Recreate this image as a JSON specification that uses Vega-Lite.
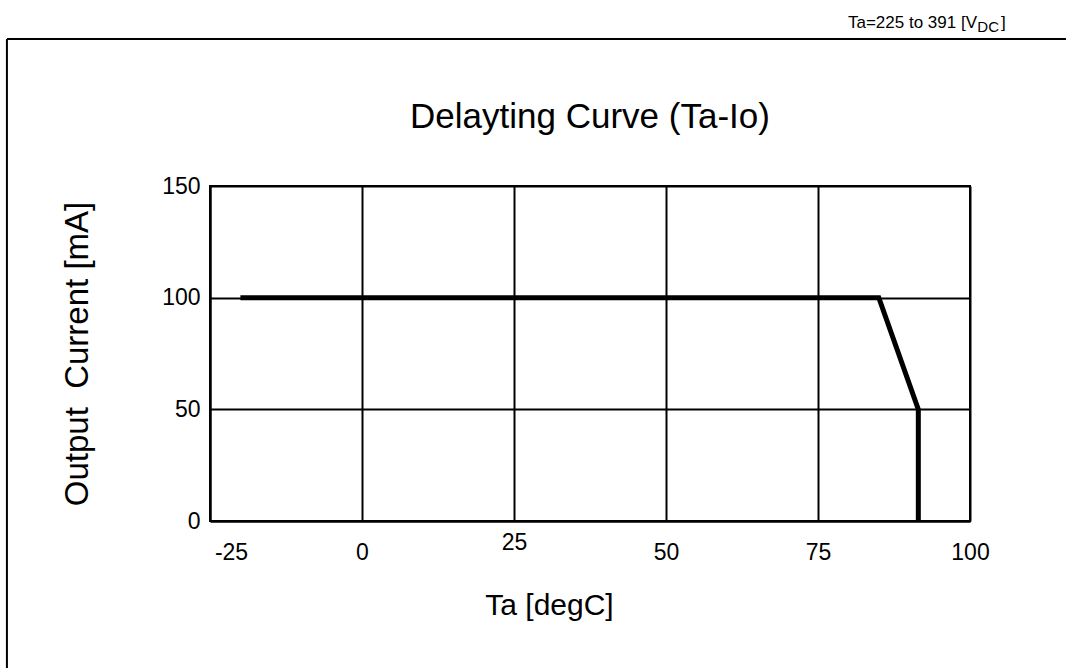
{
  "$schema": "https://vega.github.io/schema/vega-lite/v6.json",
  "width": 760,
  "height": 335,
  "autosize": "none",
  "padding": {"left": 210, "top": 186, "right": 96, "bottom": 147},
  "background": "white",
  "config": {
    "font": "Liberation Sans",
    "view": {"stroke": "black", "strokeWidth": 2}
  },
  "data": {
    "values": [
      {"ta": -20, "io": 100, "seq": 1},
      {"ta": 85, "io": 100, "seq": 2},
      {"ta": 91.5, "io": 50, "seq": 3},
      {"ta": 91.5, "io": 0, "seq": 4}
    ]
  },
  "layer": [
    {
      "mark": {"type": "line", "color": "black", "strokeWidth": 5, "strokeJoin": "miter", "strokeCap": "butt"},
      "encoding": {
        "x": {
          "field": "ta",
          "type": "quantitative",
          "scale": {"domain": [-25, 100], "nice": false, "zero": false},
          "axis": {
            "values": [-25, 0, 25, 50, 75, 100],
            "labelExpr": "toString(datum.value)",
            "title": "Ta [degC]",
            "grid": true,
            "gridColor": "black",
            "gridWidth": 2,
            "gridOpacity": 1,
            "domainColor": "black",
            "domainWidth": 2,
            "ticks": false,
            "labelFontSize": 23,
            "labelColor": "black",
            "labelPadding": {"condition": {"test": "datum.value == 25", "value": 10}, "value": 20},
            "labelOffset": {"condition": {"test": "datum.value == -25", "value": 21}, "value": 0},
            "labelOverlap": false,
            "labelFlush": false,
            "labelAlign": "center",
            "titleFontSize": 30,
            "titleFontWeight": "normal",
            "titleColor": "black",
            "titleX": 339,
            "titleY": 93,
            "titleBaseline": "alphabetic",
            "titleAlign": "center"
          }
        },
        "y": {
          "field": "io",
          "type": "quantitative",
          "scale": {"domain": [0, 150], "nice": false},
          "axis": {
            "values": [0, 50, 100, 150],
            "title": "Output\u00a0 Current [mA]",
            "grid": true,
            "gridColor": "black",
            "gridWidth": 2,
            "gridOpacity": 1,
            "domainColor": "black",
            "domainWidth": 2,
            "ticks": false,
            "labelFontSize": 23,
            "labelColor": "black",
            "labelPadding": 10,
            "labelOverlap": false,
            "titleFontSize": 33,
            "titleFontWeight": "normal",
            "titleColor": "black",
            "titleX": -133,
            "titleY": 167.5,
            "titleAngle": 270,
            "titleBaseline": "middle",
            "titleAlign": "center"
          }
        },
        "order": {"field": "seq", "type": "quantitative"}
      }
    },
    {
      "data": {"values": [{}]},
      "mark": {"type": "rule", "color": "black", "strokeWidth": 2},
      "encoding": {
        "x": {"datum": -58.4, "type": "quantitative"},
        "y": {"datum": -80, "type": "quantitative"},
        "y2": {"datum": 215.8}
      }
    },
    {
      "data": {"values": [{}]},
      "mark": {"type": "rule", "color": "black", "strokeWidth": 2},
      "encoding": {
        "x": {"datum": -58.4, "type": "quantitative"},
        "x2": {"datum": 150},
        "y": {"datum": 215.8, "type": "quantitative"}
      }
    },
    {
      "data": {"values": [{}]},
      "mark": {"type": "text", "align": "center", "baseline": "alphabetic", "fontSize": 35, "color": "black", "font": "Liberation Sans"},
      "encoding": {
        "x": {"datum": 37.5, "type": "quantitative"},
        "y": {"datum": 176, "type": "quantitative"},
        "text": {"value": "Delayting Curve (Ta-Io)"}
      }
    },
    {
      "data": {"values": [{}]},
      "mark": {"type": "text", "align": "right", "baseline": "alphabetic", "fontSize": 17, "color": "black", "font": "Liberation Sans"},
      "encoding": {
        "x": {"datum": 101.15, "type": "quantitative"},
        "y": {"datum": 220.75, "type": "quantitative"},
        "text": {"value": "Ta=225 to 391 [V"}
      }
    },
    {
      "data": {"values": [{}]},
      "mark": {"type": "text", "align": "left", "baseline": "alphabetic", "fontSize": 15, "color": "black", "font": "Liberation Sans"},
      "encoding": {
        "x": {"datum": 101.2, "type": "quantitative"},
        "y": {"datum": 218.9, "type": "quantitative"},
        "text": {"value": "DC"}
      }
    },
    {
      "data": {"values": [{}]},
      "mark": {"type": "text", "align": "left", "baseline": "alphabetic", "fontSize": 17, "color": "black", "font": "Liberation Sans"},
      "encoding": {
        "x": {"datum": 105.1, "type": "quantitative"},
        "y": {"datum": 220.75, "type": "quantitative"},
        "text": {"value": "]"}
      }
    }
  ]
}
